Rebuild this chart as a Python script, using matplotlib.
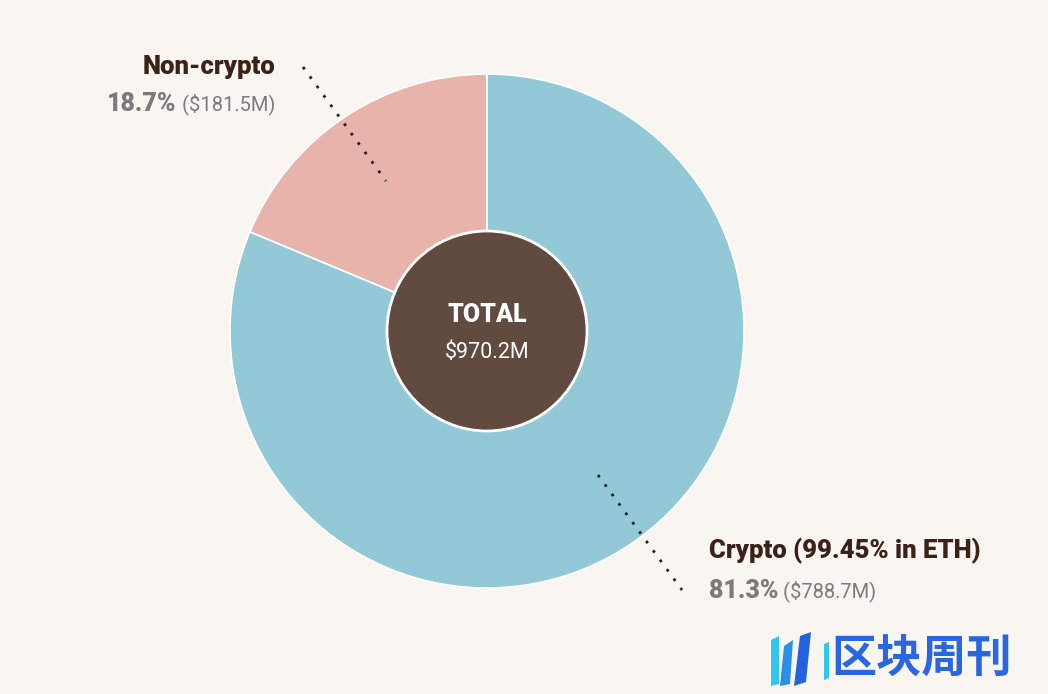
import matplotlib
matplotlib.use('Agg')
from matplotlib import pyplot as plt
from matplotlib.patches import Circle, Polygon

# data
labels = ['Non-crypto', 'Crypto (99.45% in ETH)']
shares = [18.7, 81.3]
amounts = ['$181.5M', '$788.7M']
total_label = '$970.2M'
colors = ['#E8B3AB', '#93C9D6']

W, H = 1048, 694
bg = '#F9F6F1'
dark = '#3B2119'
grey = '#7B7B7B'

fig = plt.figure(figsize=(W / 100, H / 100), dpi=100, facecolor=bg)
ax = fig.add_axes([0, 0, 1, 1])

cx, cy = 487, H - 331
ax.pie(shares, colors=colors, startangle=90, counterclock=True,
       center=(cx, cy), radius=257, frame=True,
       wedgeprops=dict(edgecolor='white', linewidth=1.2))
ax.set_xlim(0, W)
ax.set_ylim(0, H)
ax.set_aspect('equal')
ax.axis('off')

# centre disc
ax.add_patch(Circle((cx, cy), 100, facecolor='#614A3F', edgecolor='white', linewidth=2, zorder=5))
ax.text(cx, H - 315, 'TOTAL', color='white', fontsize=18, fontweight='black',
        family='Roboto', ha='center', va='center', zorder=6)
ax.text(cx, H - 352, total_label, color='white', fontsize=15.5,
        family='Roboto', ha='center', va='center', zorder=6)

# dotted leader lines
ax.plot([303, 386], [H - 67, H - 181], linestyle=(0, (1, 3.2)), color='#222222', linewidth=2, zorder=4)
ax.plot([598, 682], [H - 475, H - 590], linestyle=(0, (1, 3.2)), color='#222222', linewidth=2, zorder=4)

fig.canvas.draw()
renderer = fig.canvas.get_renderer()


def label_block(x, y_title, y_val, title, pct, amt, align):
    ax.text(x, H - y_title, title, color=dark, fontsize=18.5, fontweight='black',
            family='Roboto', ha=align, va='center')
    if align == 'right':
        t2 = ax.text(x, H - y_val, ' (' + amt + ')', color=grey, fontsize=14.5,
                     family='Roboto', ha='right', va='center')
        bb = t2.get_window_extent(renderer)
        ax.text(bb.x0, H - y_val, pct, color=grey, fontsize=18, fontweight='black',
                family='Roboto', ha='right', va='center')
    else:
        t1 = ax.text(x, H - y_val, pct, color=grey, fontsize=18, fontweight='black',
                     family='Roboto', ha='left', va='center')
        bb = t1.get_window_extent(renderer)
        ax.text(bb.x1, H - y_val, ' (' + amt + ')', color=grey, fontsize=14.5,
                family='Roboto', ha='left', va='center')


label_block(275, 67, 104, labels[0], '%.1f%%' % shares[0], amounts[0], 'right')
label_block(709, 551, 591, labels[1], '%.1f%%' % shares[1], amounts[1], 'left')

# watermark logo
bars = [
    ([(771, 640), (779, 636), (779, 684), (771, 686)], '#2FC7EE'),
    ([(784, 646), (793, 640), (790, 684), (780, 686)], '#2A8FE6'),
    ([(800, 636), (811, 632), (806, 682), (794, 686)], '#2563DE'),
    ([(824, 644), (829, 642), (829, 678), (824, 680)], '#2FC7EE'),
]
for pts, c in bars:
    ax.add_patch(Polygon([(px, H - py) for px, py in pts], closed=True, facecolor=c, edgecolor='none'))
ax.text(831, H - 660, '区块周刊', color='#2A66E0', fontsize=32.5, fontweight='bold',
        family=['Noto Sans CJK SC', 'DejaVu Sans'], ha='left', va='center')

plt.savefig('out.png', dpi=100, facecolor=bg)
plt.close()
